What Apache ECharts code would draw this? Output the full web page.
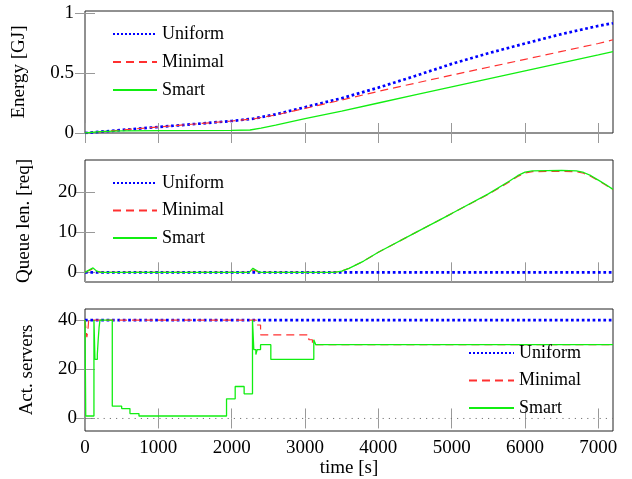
<!DOCTYPE html>
<html>
<head>
<meta charset="utf-8">
<script src="https://cdn.jsdelivr.net/npm/echarts@6/dist/echarts.min.js"></script>
<style>html,body{margin:0;padding:0;background:#fff;}#c{width:632px;height:479px;}</style>
</head>
<body>
<div id="c"></div>
<script>
// ---- data ----
const seriesNames = ['Uniform', 'Minimal', 'Smart'];
const xTicks = [0, 1000, 2000, 3000, 4000, 5000, 6000, 7000];
const energyTicks = [0, 0.5, 1];
const queueTicks = [0, 10, 20];
const serverTicks = [0, 20, 40];

// Energy [GJ] vs time [s]
const energyUniform = [[0,0],[500,0.025],[1000,0.05],[1500,0.075],[2000,0.1],[2300,0.12],[2600,0.155],[3000,0.215],[3500,0.29],[4000,0.378],[4500,0.475],[5000,0.576],[5500,0.665],[6000,0.746],[6500,0.825],[7000,0.893],[7200,0.915]];
const energyMinimal = [[0,0],[500,0.025],[1000,0.05],[1500,0.075],[2000,0.1],[2300,0.118],[2600,0.15],[3000,0.205],[3500,0.275],[4000,0.347],[4500,0.415],[5000,0.482],[5500,0.548],[6000,0.614],[6500,0.68],[7000,0.746],[7200,0.777]];
const energySmart = [[0,0],[200,0.012],[500,0.018],[1000,0.02],[2000,0.022],[2250,0.025],[2400,0.04],[2600,0.065],[3000,0.12],[3500,0.183],[4000,0.25],[4500,0.317],[5000,0.384],[5500,0.451],[6000,0.518],[6500,0.585],[7000,0.651],[7200,0.678]];

// Queue length [req]
const queueUniform = [[0,0],[7200,0]];
const queueMinimal = [[0,0],[60,0.5],[100,0.8],[150,0.3],[220,0],[2250,0],[2300,0.6],[2380,0],[3400,0],[3500,0.3],[3600,1.0],[3800,2.8],[4000,5.0],[4500,9.8],[5000,14.6],[5500,19.4],[5800,22.6],[5900,23.8],[6000,24.7],[6100,25.0],[6500,25.1],[6700,25.0],[6800,24.6],[6900,23.8],[7000,22.8],[7100,21.7],[7200,20.5]];
const queueSmart = [[0,0],[60,0.6],[110,1.1],[160,0.3],[220,0],[2240,0],[2290,1.0],[2380,0],[3400,0],[3500,0.3],[3600,1.0],[3800,2.8],[4000,5.0],[4500,9.8],[5000,14.6],[5500,19.5],[5800,22.8],[5900,24.0],[6000,24.9],[6100,25.2],[6500,25.3],[6700,25.2],[6800,24.8],[6900,24.0],[7000,22.9],[7100,21.8],[7200,20.6]];

// Active servers (step values: value holds from t until next t)
const serversUniform = [[0,40],[7200,40]];
const serversMinimal = [[0,40],[25,33],[40,36],[50,40],[2335,38],[2394,34],[3052,32],[3101,30],[7200,30]];
const serversSmart = [[0,40],[10,1],[122,40],[136,24],[168,26],[180,32],[192,37],[204,40],[372,5],[500,4],[613,2],[736,1],[1930,8],[2048,13],[2170,10],[2284,40],[2302,28],[2330,26],[2348,28],[2394,30],[2534,24],[3120,32],[3147,30],[7200,30]];
const serversZero = [[0,0],[7200,0]];

// ---- chart ----
const FONT = 'Liberation Serif';
const grids = [
  {left: 85, right: 19, top: 11, height: 122},
  {left: 85, right: 19, top: 160, height: 122},
  {left: 85, right: 19, top: 309, height: 122}
];
const tickStyle = {show: true, inside: true, length: 10, lineStyle: {color: '#999', width: 1}};
const plain = v => String(v);

const xAxis = [], yAxis = [];
const yConf = [
  {min: 0, max: 1.017, ticks: energyTicks, name: 'Energy [GJ]', gap: 56, margin: 11},
  {min: -2.4, max: 27.9, ticks: queueTicks, name: 'Queue len. [req]', gap: 51, margin: 8},
  {min: -5.1, max: 44.5, ticks: serverTicks, name: 'Act. servers', gap: 48, margin: 8}
];
for (let g = 0; g < 3; g++) {
  const last = g === 2;
  xAxis.push({
    type: 'value', gridIndex: g, position: 'bottom', min: 0, max: 7200,
    axisLine: {show: false}, splitLine: {show: false},
    axisTick: Object.assign({customValues: xTicks}, tickStyle),
    axisLabel: {show: last, customValues: xTicks, formatter: plain, margin: 8, fontFamily: FONT, fontSize: 19, color: '#000'},
    name: last ? 'time [s]' : '', nameLocation: 'middle', nameGap: 27,
    nameTextStyle: {fontFamily: FONT, fontSize: 19, color: '#000'}
  });
  xAxis.push({
    type: 'value', gridIndex: g, position: 'top', min: 0, max: 7200,
    axisLine: {show: false}, splitLine: {show: false},
    axisTick: Object.assign({customValues: xTicks}, tickStyle),
    axisLabel: {show: false}
  });
  const c = yConf[g];
  yAxis.push({
    type: 'value', gridIndex: g, position: 'left', min: c.min, max: c.max,
    axisLine: {show: false}, splitLine: {show: false},
    axisTick: Object.assign({customValues: c.ticks}, tickStyle),
    axisLabel: {customValues: c.ticks, margin: c.margin, formatter: plain, fontFamily: FONT, fontSize: 19, color: '#000'},
    name: c.name, nameLocation: 'middle', nameGap: c.gap, nameRotate: 90,
    nameTextStyle: {fontFamily: FONT, fontSize: 19, color: '#000'}
  });
  yAxis.push({
    type: 'value', gridIndex: g, position: 'right', min: c.min, max: c.max,
    axisLine: {show: false}, splitLine: {show: false},
    axisTick: Object.assign({customValues: c.ticks}, tickStyle),
    axisLabel: {show: false}
  });
}

const styles = {
  Uniform: {color: '#0000ff', width: 2.7, type: 'dotted'},
  Minimal: {color: '#ff3030', width: 1.2, type: [8, 5]},
  Smart: {color: '#11ee11', width: 1.3, type: 'solid'}
};
function mk(name, g, data, step) {
  const s = styles[name];
  return {
    type: 'line', name: name, xAxisIndex: 2 * g, yAxisIndex: 2 * g, data: data,
    symbol: 'none', showSymbol: false, step: step || false, smooth: false,
    lineStyle: {color: s.color, width: s.width, type: s.type},
    itemStyle: {color: s.color}, z: 3, silent: true
  };
}
const series = [
  mk('Uniform', 0, energyUniform), mk('Minimal', 0, energyMinimal), mk('Smart', 0, energySmart),
  mk('Uniform', 1, queueUniform), mk('Minimal', 1, queueMinimal), mk('Smart', 1, queueSmart),
  {type: 'line', name: 'zero', xAxisIndex: 4, yAxisIndex: 4, data: serversZero, symbol: 'none', silent: true,
   lineStyle: {color: '#777', width: 1, type: [1.2, 5]}, z: 2},
  mk('Uniform', 2, serversUniform, 'end'), mk('Minimal', 2, serversMinimal, 'end'), mk('Smart', 2, serversSmart, 'end')
];

function legend(left, top, w, gap) {
  return {
    data: seriesNames, left: left, top: top, orient: 'vertical', padding: 0,
    itemWidth: w, itemHeight: 14, itemGap: gap, selectedMode: false,
    itemStyle: {opacity: 0},
    textStyle: {fontFamily: FONT, fontSize: 18, color: '#000'}
  };
}

const chart = echarts.init(document.getElementById('c'), null, {renderer: 'canvas'});
chart.setOption({
  animation: false,
  backgroundColor: '#fff',
  grid: grids.map(g => Object.assign({show: true, borderColor: '#222', borderWidth: 1, backgroundColor: 'transparent'}, g)),
  xAxis: xAxis,
  yAxis: yAxis,
  legend: [legend(112, 25, 44, 10), legend(112, 174, 44, 9.5), legend(468, 344, 45, 9.5)],
  series: series
});
</script>
</body>
</html>
